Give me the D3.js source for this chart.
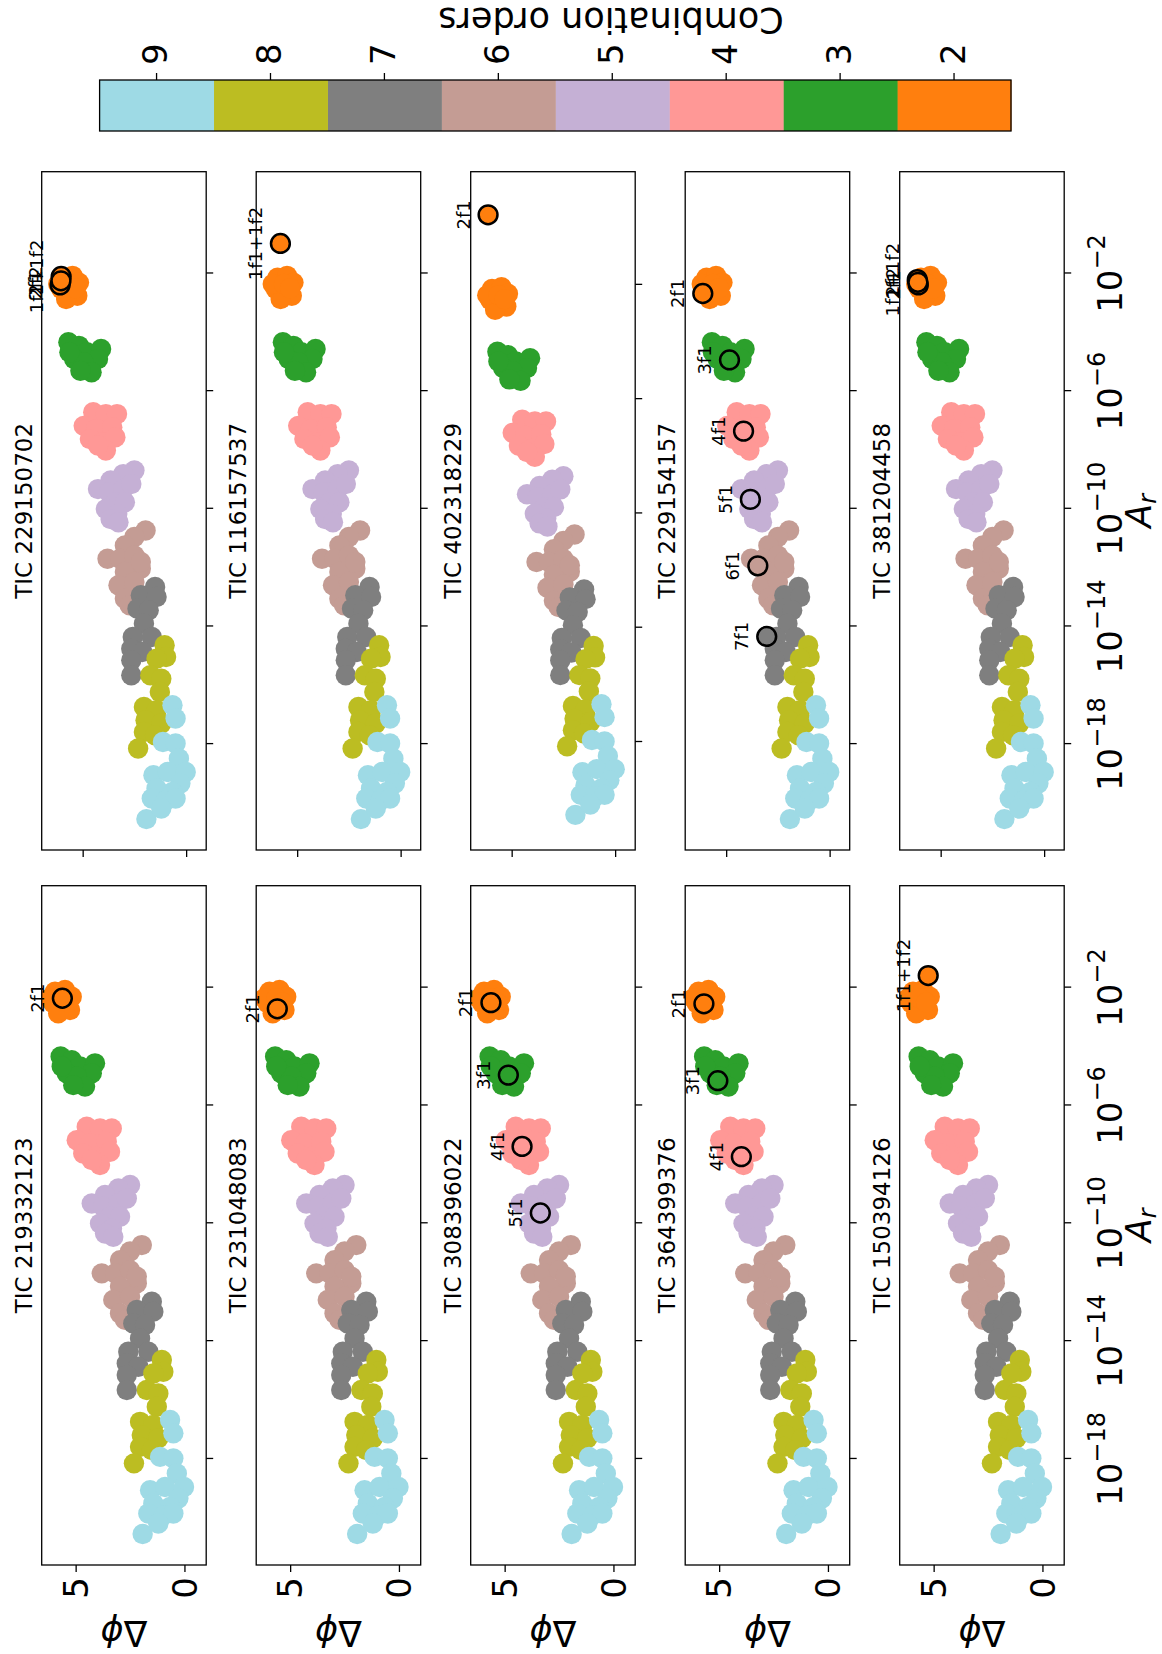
<!DOCTYPE html>
<html><head><meta charset="utf-8">
<script src="https://cdn.jsdelivr.net/npm/d3@7"></script>
<style>body{margin:0;background:#fff}svg{display:block}text{font-family:"DejaVu Sans",sans-serif;fill:#000}</style>
</head><body>
<script>
// ---------------- data ----------------
const orders = [2, 3, 4, 5, 6, 7, 8, 9];
const orderColors = ["#ff7f0e", "#2ca02c", "#ff9896", "#c5b0d5", "#c49c94", "#7f7f7f", "#bcbd22", "#9edae5"];
// background combinations: [log10 A_r, delta phi]
const order2 = [[-2.14,5.95],[-2.08,5.49],[-2.31,5.18],[-2.53,6.03],[-2.64,5.57],[-2.76,5.26],[-2.87,5.80],[-2.36,6.18],[-2.36,5.64],[-2.50,5.35]];
const order3 = [[-4.34,5.69],[-4.46,5.18],[-4.68,4.80],[-4.57,4.11],[-4.91,4.26],[-4.91,5.41],[-5.02,4.95],[-5.36,4.57],[-5.31,5.11],[-4.68,5.64]];
const order4 = [[-6.72,4.49],[-6.78,3.88],[-6.78,3.34],[-7.18,4.95],[-7.29,4.34],[-7.23,3.57],[-7.63,4.65],[-7.74,4.03],[-7.57,3.42],[-8.02,3.88],[-7.85,4.26]];
const order5 = [[-8.70,2.50],[-8.82,3.04],[-9.04,3.65],[-9.33,4.26],[-9.44,3.73],[-9.33,3.04],[-9.16,2.65],[-9.78,3.42],[-9.78,2.96],[-10.01,3.88],[-10.18,3.33],[-10.35,3.65],[-10.46,3.27]];
const order6 = [[-10.74,1.96],[-10.96,2.50],[-11.25,2.96],[-11.70,3.80],[-11.70,3.19],[-11.59,2.50],[-12.04,2.19],[-12.15,2.96],[-12.60,3.27],[-12.49,2.50],[-13.06,2.96],[-11.81,2.19],[-13.28,2.73]];
const order7 = [[-12.66,1.50],[-12.94,2.19],[-13.00,1.43],[-13.40,2.35],[-13.45,1.81],[-13.91,2.04],[-14.36,2.58],[-14.36,1.66],[-14.76,2.65],[-14.87,2.12],[-15.15,2.65],[-15.66,2.65]];
const order8 = [[-14.64,1.04],[-15.04,0.97],[-15.10,1.43],[-15.66,1.73],[-15.78,1.20],[-16.23,1.27],[-16.74,2.04],[-16.85,1.43],[-17.19,1.96],[-17.30,1.20],[-17.59,2.04],[-17.70,1.50],[-18.15,2.32]];
const order9 = [[-16.68,0.66],[-17.13,0.51],[-17.93,1.12],[-17.98,0.51],[-18.49,0.35],[-19.06,1.58],[-18.95,0.89],[-18.95,0.02],[-19.34,0.28],[-19.51,1.43],[-19.63,0.66],[-19.85,1.66],[-19.91,0.97],[-19.85,0.51],[-20.55,1.92],[-20.19,1.20]];
const background = [order2, order3, order4, order5, order6, order7, order8, order9];

const starsLeft = ["TIC 219332123", "TIC 231048083", "TIC 308396022", "TIC 364399376", "TIC 150394126"];
const starsRight = ["TIC 229150702", "TIC 116157537", "TIC 402318229", "TIC 229154157", "TIC 381204458"];
// identified combinations per star: [label, order, log10 A_r, delta phi]
const comb219332123 = [["2f1",2,-2.36,5.61]];
const comb231048083 = [["2f1",2,-2.72,5.59]];
const comb308396022 = [["2f1",2,-2.51,5.63],["3f1",3,-4.97,4.83],["4f1",4,-7.39,4.20],["5f1",5,-9.65,3.36]];
const comb364399376 = [["2f1",2,-2.55,5.70],["3f1",3,-5.16,5.06],["4f1",4,-7.74,3.98]];
const comb150394126 = [["1f1+1f2",2,-1.59,5.25]];
const comb229150702 = [["1f1+1f2",2,-2.10,6.04],["2f1",2,-2.39,6.09],["2f2",2,-2.25,6.05]];
const comb116157537 = [["1f1+1f2",2,-0.98,5.81]];
const comb402318229 = [["2f1",2,0.45,6.14]];
const comb229154157 = [["2f1",2,-2.68,6.13],["3f1",3,-4.94,4.84],["4f1",4,-7.36,4.16],["5f1",5,-9.68,3.83],["6f1",6,-11.94,3.47],["7f1",7,-14.34,3.04]];
const comb381204458 = [["1f1+1f2",2,-2.21,6.13],["2f1",2,-2.39,6.08],["2f2",2,-2.30,6.10]];
const combLeft = [comb219332123, comb231048083, comb308396022, comb364399376, comb150394126];
const combRight = [comb229150702, comb116157537, comb402318229, comb229154157, comb381204458];

const xTickExp = [-2, -6, -10, -14, -18];
const yTicks = [0, 5];
// axis limits (log10 A_r) and delta phi limits
const xLimStd = [-21.6, 1.46];
const xLimWide = [-21.78, 1.96];
const yLimLeft = [-1.0, 6.56];
const yLimRight = [-0.97, 6.98];

// ---------------- layout (figure drawn landscape, then rotated) ----------------
const FIGW = 1654, FIGH = 1162;
const colX = [89, 804], colW = [679.3, 678.3];
const rowY0 = 41.7, rowStep = 214.5, panelH = 164.5;
const R = 10.2;

const svg = d3.select("body").append("svg").attr("width", 1162).attr("height", 1654);
const fig = svg.append("g").attr("transform", `translate(0,${FIGW}) rotate(-90)`);
const color = d3.scaleOrdinal().domain(orders).range(orderColors);

function drawPanel(col, row, name, combs) {
  const x0 = colX[col], w = colW[col], y0 = rowY0 + rowStep * row, h = panelH;
  const xl = (col === 1 && row === 2) ? xLimWide : xLimStd;
  const yl = col === 0 ? yLimLeft : yLimRight;
  const x = d3.scaleLog().domain([10 ** xl[0], 10 ** xl[1]]).range([x0, x0 + w]);
  const y = d3.scaleLinear().domain(yl).range([y0 + h, y0]);
  const id = `clip${col}${row}`;
  fig.append("clipPath").attr("id", id).append("rect").attr("x", x0).attr("y", y0).attr("width", w).attr("height", h);
  const g = fig.append("g");
  const pts = g.append("g").attr("clip-path", `url(#${id})`);
  background.forEach((arr, i) => {
    pts.selectAll(null).data(arr).join("circle")
      .attr("cx", d => x(10 ** d[0])).attr("cy", d => y(d[1])).attr("r", R)
      .attr("fill", color(orders[i]));
  });
  pts.selectAll(null).data(combs).join("circle")
    .attr("cx", d => x(10 ** d[2])).attr("cy", d => y(d[3])).attr("r", 9.4)
    .attr("fill", d => color(d[1])).attr("stroke", "#000").attr("stroke-width", 2.5);
  g.selectAll(null).data(combs).join("text")
    .attr("x", d => x(10 ** d[2])).attr("y", d => y(d[3]) - 18.5)
    .attr("text-anchor", "middle").attr("font-size", 18).text(d => d[0]);
  // box
  g.append("rect").attr("x", x0).attr("y", y0).attr("width", w).attr("height", h)
    .attr("fill", "none").attr("stroke", "#000").attr("stroke-width", 1.3);
  // x ticks
  const xa = g.append("g").attr("transform", `translate(0,${y0 + h})`)
    .call(d3.axisBottom(x).tickValues(xTickExp.map(e => 10 ** e)).tickSize(7).tickFormat(() => ""));
  xa.select(".domain").remove();
  xa.selectAll("line").attr("stroke-width", 1.3);
  if (row === 4) {
    xTickExp.forEach(e => {
      const t = g.append("text").attr("x", x(10 ** e)).attr("y", y0 + h + 58)
        .attr("text-anchor", "middle").attr("font-size", 34);
      t.append("tspan").text("10");
      t.append("tspan").attr("font-size", 24).attr("dy", -17).text("\u2212" + Math.abs(e));
    });
    g.append("text").attr("x", x0 + w / 2).attr("y", y0 + h + 87).attr("text-anchor", "middle")
      .attr("font-size", 35).html('<tspan font-style="italic">A</tspan><tspan font-style="italic" font-size="24" dy="5">r</tspan>');
  }
  // y ticks
  const ya = g.append("g").attr("transform", `translate(${x0},0)`)
    .call(d3.axisLeft(y).tickValues(yTicks).tickSize(7).tickFormat(() => ""));
  ya.select(".domain").remove();
  ya.selectAll("line").attr("stroke-width", 1.3);
  if (col === 0) {
    yTicks.forEach(v => {
      g.append("text").attr("x", x0 - 12).attr("y", y(v)).attr("dy", "0.36em")
        .attr("text-anchor", "end").attr("font-size", 34).text(v);
    });
    g.append("text").attr("transform", `translate(33,${y0 + h / 2}) rotate(-90)`)
      .attr("text-anchor", "middle").attr("font-size", 35)
      .html('\u0394<tspan font-style="italic">\u03d5</tspan>');
  }
  // title
  g.append("text").attr("x", x0 + w / 2).attr("y", y0 - 10).attr("text-anchor", "middle")
    .attr("font-size", 23).text(name);
}

starsLeft.forEach((s, i) => drawPanel(0, i, s, combLeft[i]));
starsRight.forEach((s, i) => drawPanel(1, i, s, combRight[i]));

// ---------------- colorbar ----------------
const cbX = 1523, cbW = 51, cbY0 = 99.6, cbY1 = 1011;
const cb = d3.scaleBand().domain(orders.slice().reverse()).range([cbY0, cbY1]);
const cbg = fig.append("g");
cbg.selectAll(null).data(orders).join("rect")
  .attr("x", cbX).attr("y", d => cb(d)).attr("width", cbW).attr("height", cb.bandwidth() + 0.5)
  .attr("fill", d => color(d));
cbg.append("rect").attr("x", cbX).attr("y", cbY0).attr("width", cbW).attr("height", cbY1 - cbY0)
  .attr("fill", "none").attr("stroke", "#000").attr("stroke-width", 1.3);
const cba = cbg.append("g").attr("transform", `translate(${cbX + cbW},0)`)
  .call(d3.axisRight(cb).tickSize(7).tickPadding(8));
cba.select(".domain").remove();
cba.selectAll("line").attr("stroke-width", 1.3);
cba.selectAll("text").attr("font-size", 34).attr("font-family", '"DejaVu Sans"').attr("fill", "#000");
cbg.append("text").attr("transform", `translate(1646,611) rotate(-90)`).attr("text-anchor", "middle")
  .attr("font-size", 35).text("Combination orders");
</script>
</body></html>
